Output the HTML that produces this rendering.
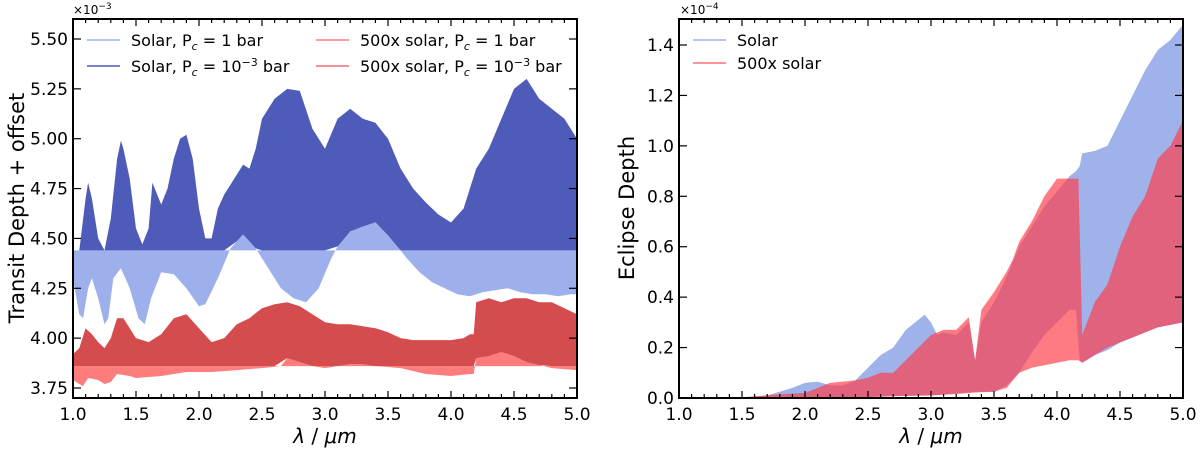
<!DOCTYPE html>
<html><head><meta charset="utf-8"><style>
body{margin:0;background:#fff;}
svg{display:block;font-family:"DejaVu Sans","Liberation Sans",sans-serif;}
</style></head><body>
<svg id="c" width="1200" height="450" viewBox="0 0 1200 450" xmlns="http://www.w3.org/2000/svg">
<g id="L"></g>
<g id="R"></g>
</svg>
<script>
// ---- Left panel data (transit depth ×1e-3) ----
const darkBlueX = [1.0,1.05,1.1,1.12,1.15,1.2,1.25,1.3,1.35,1.38,1.4,1.45,1.5,1.55,1.6,1.63,1.7,1.75,1.8,1.85,1.9,1.95,2.0,2.05,2.1,2.15,2.2,2.3,2.35,2.4,2.45,2.5,2.6,2.7,2.8,2.9,3.0,3.1,3.2,3.3,3.4,3.5,3.6,3.7,3.8,3.9,4.0,4.1,4.2,4.3,4.4,4.5,4.6,4.7,4.8,4.9,5.0];
const darkBlueTop = [4.44,4.44,4.7,4.78,4.7,4.5,4.44,4.6,4.9,4.99,4.95,4.8,4.55,4.47,4.55,4.78,4.67,4.75,4.9,5.0,5.02,4.9,4.65,4.5,4.5,4.65,4.72,4.82,4.87,4.85,4.95,5.1,5.2,5.25,5.24,5.05,4.95,5.1,5.15,5.1,5.08,5.0,4.85,4.75,4.68,4.62,4.58,4.65,4.85,4.95,5.1,5.25,5.3,5.2,5.15,5.1,5.0];
const blueCloud = 4.44;
const lightBlueX = [1.0,1.05,1.08,1.12,1.15,1.2,1.25,1.28,1.32,1.38,1.45,1.52,1.57,1.62,1.7,1.8,1.9,2.0,2.05,2.15,2.25,2.35,2.45,2.55,2.65,2.75,2.85,2.95,3.05,3.15,3.25,3.3,3.33,3.35,3.37,3.45,3.55,3.65,3.75,3.85,3.95,4.05,4.15,4.25,4.35,4.45,4.55,4.65,4.75,4.85,4.95,5.0];
const lightBlueLow = [4.3,4.12,4.1,4.25,4.3,4.2,4.07,4.1,4.3,4.35,4.25,4.1,4.07,4.2,4.33,4.32,4.25,4.16,4.17,4.3,4.45,4.52,4.45,4.35,4.25,4.2,4.18,4.25,4.4,4.52,4.55,4.56,4.7,4.72,4.6,4.55,4.48,4.4,4.33,4.28,4.25,4.22,4.21,4.23,4.24,4.25,4.23,4.22,4.22,4.21,4.22,4.22];
const darkRedX = [1.0,1.05,1.1,1.15,1.2,1.25,1.3,1.35,1.4,1.45,1.5,1.6,1.7,1.8,1.9,2.0,2.1,2.2,2.3,2.4,2.5,2.6,2.7,2.8,2.9,3.0,3.1,3.2,3.3,3.4,3.5,3.6,3.7,3.8,3.9,4.0,4.1,4.15,4.18,4.2,4.3,4.4,4.5,4.6,4.7,4.8,4.9,5.0];
const darkRedTop = [3.92,3.95,4.05,4.02,3.98,3.95,4.0,4.1,4.1,4.05,4.0,3.98,4.02,4.1,4.12,4.05,3.98,4.0,4.07,4.1,4.15,4.17,4.18,4.16,4.12,4.08,4.07,4.07,4.06,4.05,4.03,4.0,3.99,3.99,3.99,3.99,4.0,4.02,4.02,4.18,4.2,4.18,4.2,4.2,4.18,4.18,4.15,4.12];
const redCloud = 3.86;
const lightRedX = [1.0,1.05,1.08,1.12,1.2,1.25,1.3,1.35,1.45,1.5,1.7,1.9,2.1,2.3,2.5,2.65,2.7,2.8,2.9,3.0,3.2,3.3,3.35,3.4,3.6,3.8,4.0,4.15,4.18,4.2,4.3,4.4,4.5,4.6,4.8,5.0];
const lightRedLow = [3.79,3.77,3.76,3.8,3.79,3.77,3.78,3.82,3.81,3.8,3.81,3.83,3.83,3.84,3.85,3.86,3.9,3.88,3.86,3.85,3.87,3.87,3.9,3.86,3.85,3.82,3.81,3.82,3.82,3.9,3.91,3.93,3.91,3.88,3.85,3.84];
const leftYTicks = ["3.75","4.00","4.25","4.50","4.75","5.00","5.25","5.50"];
const xTicks = ["1.0","1.5","2.0","2.5","3.0","3.5","4.0","4.5","5.0"];

// ---- Right panel data (eclipse depth ×1e-4) ----
const solarX = [1.0,1.5,1.7,1.9,2.0,2.1,2.2,2.3,2.4,2.5,2.6,2.7,2.8,2.9,2.95,3.0,3.05,3.1,3.2,3.3,3.35,3.4,3.5,3.6,3.7,3.8,3.9,4.0,4.1,4.15,4.18,4.2,4.3,4.4,4.5,4.6,4.7,4.8,4.9,5.0];
const solarTop = [0,0.003,0.01,0.04,0.06,0.065,0.05,0.05,0.07,0.12,0.17,0.2,0.27,0.31,0.33,0.3,0.25,0.26,0.25,0.3,0.15,0.3,0.38,0.48,0.6,0.68,0.76,0.82,0.88,0.9,0.92,0.97,0.98,1.0,1.1,1.2,1.3,1.38,1.42,1.48];
const solarLow = [0,0,0,0,0,0,0,0,0.003,0.005,0.006,0.008,0.009,0.01,0.01,0.01,0.012,0.014,0.018,0.022,0.024,0.025,0.025,0.05,0.1,0.18,0.25,0.3,0.35,0.35,0.15,0.14,0.17,0.19,0.22,0.24,0.26,0.28,0.29,0.3];
const richX = [1.0,1.5,1.8,2.0,2.2,2.4,2.5,2.6,2.7,2.8,2.9,3.0,3.1,3.2,3.3,3.35,3.4,3.5,3.6,3.65,3.7,3.8,3.9,4.0,4.1,4.17,4.2,4.3,4.4,4.5,4.6,4.7,4.8,4.9,5.0];
const richTop = [0,0.002,0.015,0.02,0.06,0.07,0.08,0.1,0.1,0.15,0.2,0.25,0.27,0.27,0.32,0.15,0.35,0.42,0.5,0.55,0.62,0.7,0.8,0.87,0.87,0.87,0.25,0.38,0.45,0.6,0.72,0.8,0.95,1.0,1.1];
const richLow = [0,0,0,0,0.002,0.003,0.003,0.005,0.007,0.008,0.009,0.01,0.013,0.016,0.02,0.022,0.023,0.025,0.04,0.07,0.1,0.12,0.13,0.14,0.15,0.15,0.14,0.17,0.2,0.22,0.24,0.26,0.28,0.29,0.3];
const rightYTicks = ["0.0","0.2","0.4","0.6","0.8","1.0","1.2","1.4"];

const NS="http://www.w3.org/2000/svg";
function mk(parent,tag,attrs){const e=document.createElementNS(NS,tag);for(const k in attrs)e.setAttribute(k,attrs[k]);parent.appendChild(e);return e;}

const LP={x0:73,x1:577,y0:19,y1:398};
const RP={x0:679,x1:1183,y0:19,y1:398};
const lx=v=>LP.x0+(v-1)/4*(LP.x1-LP.x0);
const ly=v=>39+(5.5-v)*199.43;
const rx=v=>RP.x0+(v-1)/4*(RP.x1-RP.x0);
const ry=v=>398-v*252.14;

function band(g,xs,top,low,X,Y,fill,op,name){
  let d="";
  xs.forEach((x,i)=>{d+=(i?"L":"M")+X(x).toFixed(1)+","+Y(top(i)).toFixed(1);});
  for(let i=xs.length-1;i>=0;i--)d+="L"+X(xs[i]).toFixed(1)+","+Y(low(i)).toFixed(1);
  const p=mk(g,"path",{d:d+"Z",fill:fill,"fill-opacity":op});
  
  
}
function interp(xs,ys,x){if(x<=xs[0])return ys[0];for(let i=1;i<xs.length;i++){if(x<=xs[i]){const t=(x-xs[i-1])/(xs[i]-xs[i-1]);return ys[i-1]+t*(ys[i]-ys[i-1]);}}return ys[ys.length-1];}

const L=document.getElementById('L'), R=document.getElementById('R');
const clipL=mk(document.getElementById('c'),"clipPath",{id:"cl"});mk(clipL,"rect",{x:LP.x0,y:LP.y0,width:LP.x1-LP.x0,height:LP.y1-LP.y0});
const clipR=mk(document.getElementById('c'),"clipPath",{id:"cr"});mk(clipR,"rect",{x:RP.x0,y:RP.y0,width:RP.x1-RP.x0,height:RP.y1-RP.y0});
const gL=mk(L,"g",{"clip-path":"url(#cl)"}), gR=mk(R,"g",{"clip-path":"url(#cr)"});

band(gL,lightBlueX,i=>blueCloud,i=>lightBlueLow[i],lx,ly,"#9db0ec",1,"solar-1bar-band");
band(gL,darkBlueX,i=>darkBlueTop[i],i=>Math.max(blueCloud,interp(lightBlueX,lightBlueLow,darkBlueX[i])),lx,ly,"#4f5bb8",1,"solar-1e-3bar-band");
band(gL,lightRedX,i=>redCloud,i=>lightRedLow[i],lx,ly,"#fd7d7d",1,"rich-1bar-band");
band(gL,darkRedX,i=>darkRedTop[i],i=>Math.max(redCloud,interp(lightRedX,lightRedLow,darkRedX[i])),lx,ly,"#d54c4e",1,"rich-1e-3bar-band");
band(gR,solarX,i=>solarTop[i],i=>solarLow[i],rx,ry,"#9fb2ea",1,"solar-eclipse-band");
band(gR,richX,i=>richTop[i],i=>richLow[i],rx,ry,"#ff3c48",0.68,"rich-eclipse-band");

function axes(g,P,X,yTicks,Y){
  const fr=mk(g,"rect",{x:P.x0,y:P.y0,width:P.x1-P.x0,height:P.y1-P.y0,fill:"none",stroke:"#000","stroke-width":2});
  
  
  for(let k=0;k<=40;k++){const v=1+k*0.1;const x=X(v);const major=k%5===0;const len=major?7:4;
    mk(g,"line",{x1:x,x2:x,y1:P.y1,y2:P.y1-len,stroke:"#000","stroke-width":1.2});
    mk(g,"line",{x1:x,x2:x,y1:P.y0,y2:P.y0+len,stroke:"#000","stroke-width":1.2});}
  xTicks.forEach(t=>{const e=mk(g,"text",{x:X(+t),y:P.y1+22,"text-anchor":"middle","font-size":17});e.textContent=t;
    
    });
  yTicks.forEach(t=>{const y=Y(+t);
    mk(g,"line",{x1:P.x0,x2:P.x0+8,y1:y,y2:y,stroke:"#000","stroke-width":1.2});
    mk(g,"line",{x1:P.x1,x2:P.x1-8,y1:y,y2:y,stroke:"#000","stroke-width":1.2});
    const e=mk(g,"text",{x:P.x0-5,y:y+6,"text-anchor":"end","font-size":17});e.textContent=t;
    
    });
}
axes(L,LP,lx,leftYTicks,ly);
axes(R,RP,rx,rightYTicks,ry);

function txt(g,x,y,s,attrs,name){const e=mk(g,"text",Object.assign({x:x,y:y},attrs));e.innerHTML=s;
  
  return e;}
txt(L,73,14,'×10<tspan dy="-5" font-size="9">−3</tspan>',{"font-size":12},"y-offset-text");
txt(R,680,14,'×10<tspan dy="-5" font-size="9">−4</tspan>',{"font-size":12},"y-offset-text");
txt(L,24,208,'Transit Depth  + offset',{"font-size":21,"text-anchor":"middle",transform:"rotate(-90 24 208)"},"y-axis-title");
txt(R,634,208,'Eclipse Depth',{"font-size":21,"text-anchor":"middle",transform:"rotate(-90 634 208)"},"y-axis-title");
txt(L,325,443,'<tspan font-style="italic">λ</tspan> / <tspan font-style="italic">μm</tspan>',{"font-size":20,"text-anchor":"middle"},"x-axis-title");
txt(R,931,443,'<tspan font-style="italic">λ</tspan> / <tspan font-style="italic">μm</tspan>',{"font-size":20,"text-anchor":"middle"},"x-axis-title");

function leg(g,x,y,color,label){
  const ln=mk(g,"line",{x1:x,x2:x+33,y1:y,y2:y,stroke:color,"stroke-width":1.5});
  
  
  txt(g,x+44,y+6,label,{"font-size":16},"legend-entry");
}
leg(L,87,40,"#9db0ec",'Solar, P<tspan dy="4" font-size="11" font-style="italic">c</tspan><tspan dy="-4"> = 1 bar</tspan>');
leg(L,87,66,"#4f5bb8",'Solar, P<tspan dy="4" font-size="11" font-style="italic">c</tspan><tspan dy="-4"> = 10</tspan><tspan dy="-6" font-size="11">−3</tspan><tspan dy="6"> bar</tspan>');
leg(L,316,40,"#fd7d7d",'500x solar, P<tspan dy="4" font-size="11" font-style="italic">c</tspan><tspan dy="-4"> = 1 bar</tspan>');
leg(L,316,66,"#ef6f70",'500x solar, P<tspan dy="4" font-size="11" font-style="italic">c</tspan><tspan dy="-4"> = 10</tspan><tspan dy="-6" font-size="11">−3</tspan><tspan dy="6"> bar</tspan>');
leg(R,693,40,"#9fb2ea",'Solar');
leg(R,693,63,"#ff7070",'500x solar');
</script>
</body></html>
